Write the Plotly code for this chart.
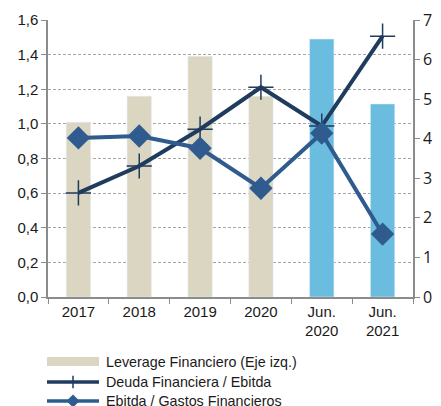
import plotly.graph_objects as go

categories = ["2017", "2018", "2019", "2020", "Jun.<br>2020", "Jun.<br>2021"]
leverage = [1.01, 1.16, 1.39, 1.16, 1.49, 1.115]
bar_colors = ["#DAD6C1", "#DAD6C1", "#DAD6C1", "#DAD6C1", "#6BBDDF", "#6BBDDF"]
deuda_ebitda = [2.63, 3.31, 4.24, 5.30, 4.32, 6.59]
ebitda_gastos = [4.02, 4.07, 3.76, 2.75, 4.14, 1.59]
left_ticks = [0, 0.2, 0.4, 0.6, 0.8, 1.0, 1.2, 1.4, 1.6]
right_ticks = [0, 1, 2, 3, 4, 5, 6, 7]
legend_labels = ["Leverage Financiero (Eje izq.)", "Deuda Financiera / Ebitda", "Ebitda / Gastos Financieros"]

# the page body has an 8px default margin, so the figure is sized to fit the window
OFF = 8
WIN_W, WIN_H = 441, 406
W, H = WIN_W - OFF, WIN_H - OFF
NAVY = "#1F3B5E"
BLUE = "#2F5B8E"
AXIS = "#8C8C8C"
FONT = "Liberation Sans, Arial, sans-serif"

def fx(v):  # window pixel -> paper fraction (x)
    return (v - OFF) / W

def fy(v):  # window pixel -> paper fraction (y, from bottom)
    return (H - (v - OFF)) / H

fig = go.Figure()
fig.add_trace(go.Bar(x=categories, y=leverage, marker_color=bar_colors, width=0.4,
                     xaxis="x", yaxis="y", showlegend=False))
fig.add_trace(go.Scatter(x=categories, y=deuda_ebitda, mode="lines+markers",
                         line=dict(color=NAVY, width=4),
                         marker=dict(symbol="cross-thin", size=18, line=dict(color=NAVY, width=1.5)),
                         xaxis="x", yaxis="y2", showlegend=False))
fig.add_trace(go.Scatter(x=categories, y=ebitda_gastos, mode="lines+markers",
                         line=dict(color=BLUE, width=4),
                         marker=dict(symbol="diamond", size=18, color=BLUE),
                         xaxis="x", yaxis="y2", showlegend=False))

# custom legend drawn on an overlay axis in window-pixel coordinates
lx0, lx1, ltx = 47, 99, 104
rows = [361.5, 382, 401]
fig.add_shape(type="rect", xref="x3", yref="y3", x0=lx0, x1=lx1, y0=357, y1=366,
              fillcolor="#DAD6C1", line=dict(width=0))
for r, col, mk in [(rows[1], NAVY, dict(symbol="cross-thin", size=9, line=dict(color=NAVY, width=1.5))),
                   (rows[2], BLUE, dict(symbol="diamond", size=10, color=BLUE))]:
    fig.add_trace(go.Scatter(x=[lx0, (lx0 + lx1) / 2, lx1], y=[r, r, r], mode="lines+markers",
                             line=dict(color=col, width=3.5), marker=mk,
                             selectedpoints=[1], unselected=dict(marker=dict(opacity=0)),
                             xaxis="x3", yaxis="y3", showlegend=False, hoverinfo="skip"))
for r, lab in zip(rows, legend_labels):
    fig.add_annotation(x=ltx, y=r, xref="x3", yref="y3", text=lab, showarrow=False,
                       xanchor="left", yanchor="middle",
                       font=dict(size=14.3, color="#1a1a1a", family=FONT))

ydom = [fy(297), fy(20)]
fig.update_layout(
    width=W, height=H, margin=dict(l=0, r=0, t=0, b=0, autoexpand=False),
    paper_bgcolor="white", plot_bgcolor="rgba(0,0,0,0)",
    separators=",.",
    font=dict(family=FONT, size=15, color="#1a1a1a"),
    xaxis=dict(domain=[fx(48), fx(413)], type="category", tickson="boundaries",
               ticks="outside", ticklen=5, tickcolor=AXIS, showline=True, linecolor=AXIS,
               linewidth=1.5, showgrid=False, tickfont=dict(size=15, family=FONT), anchor="y",
               automargin=False),
    yaxis=dict(domain=ydom, range=[0, 1.6], tickvals=left_ticks,
               tickformat=".1f", ticks="outside", ticklen=5, tickcolor=AXIS, showline=True,
               linecolor=AXIS, linewidth=1.5, showgrid=True, gridcolor="#A6A6A6",
               griddash="3px,2px", gridwidth=1, zeroline=False,
               tickfont=dict(size=15, family=FONT), anchor="x", automargin=False),
    yaxis2=dict(domain=ydom, range=[0, 7], tickvals=right_ticks,
                overlaying="y", side="right", ticks="outside", ticklen=5, tickcolor=AXIS,
                showline=True, linecolor=AXIS, linewidth=1.5, showgrid=False, zeroline=False,
                tickfont=dict(size=16, family="Open Sans, DejaVu Sans, sans-serif", color="#1a1a1a"),
                anchor="x", automargin=False),
    xaxis3=dict(domain=[0, 1], range=[OFF, WIN_W], visible=False, anchor="y3", fixedrange=True),
    yaxis3=dict(domain=[0, 1], range=[WIN_H, OFF], visible=False, anchor="x3", fixedrange=True),
)

fig.write_html("out.html")
